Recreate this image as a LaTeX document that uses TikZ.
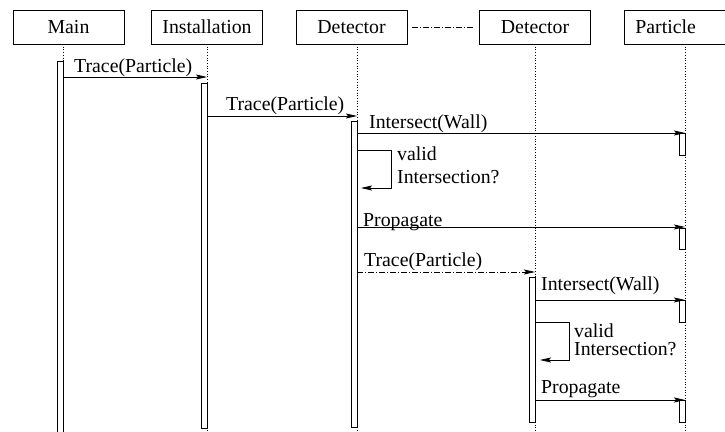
\documentclass[tikz,border=0pt]{standalone}
\usepackage{fontspec}
\setmainfont{Liberation Serif}
\usetikzlibrary{arrows.meta}
\begin{document}
\begin{tikzpicture}[x=1pt,y=-1pt,
  every node/.style={font=\fontsize{19.8}{22}\selectfont},
  obj/.style={draw, line width=0.8pt, minimum width=111pt, minimum height=34pt, inner sep=0pt},
  life/.style={dotted, line width=0.7pt},
  bar/.style={draw, fill=white, line width=0.7pt},
  msg/.style={line width=0.8pt, -{Stealth[length=11pt,width=5pt,inset=2pt]}},
  ddash/.style={dash pattern=on 6pt off 2pt on 1pt off 2pt},
  lbl/.style={anchor=base west, inner sep=0pt}]
\useasboundingbox (0,0) rectangle (725,431);
\clip (0,0) rectangle (725,431);

% objects
\node[obj] (main) at (68.5,27) {Main};
\node[obj] (inst) at (207,27) {Installation};
\node[obj] (det1) at (351.5,27) {Detector};
\node[obj] (det2) at (535,27) {Detector};
\node[obj, anchor=west, minimum width=0pt, text width=100pt, align=left, inner xsep=11pt] (part) at (624,27) {Particle};
\draw[line width=0.7pt, ddash] (det1.east) ++(5,0) coordinate (dA) (det2.west) ++(-5,0) coordinate (dB);
\draw[line width=0.7pt, ddash] (dA) -- (dB);

% lifelines
\foreach \n/\x in {mainL/63, instL/207, det1L/357, det2L/535, partL/685}{
  \coordinate (\n T) at (\x,44);
  \coordinate (\n B) at (\x,440);
  \draw[life] (\n T) -- (\n B);
}

% activation bars
\draw[bar] (57,61) rectangle (63,440);
\draw[bar] (201,83) rectangle (207,428);
\draw[bar] (351.5,121) rectangle (357,427);
\draw[bar] (529,277) rectangle (535,422);
\draw[bar] (679,133) rectangle (685,155);
\draw[bar] (679,228) rectangle (685,249);
\draw[bar] (679,300) rectangle (685,322);
\draw[bar] (679,400) rectangle (685,422);

% message end points
\coordinate (m1a) at (63,77);   \coordinate (m1b) at (207,77);
\coordinate (m2a) at (207,116); \coordinate (m2b) at (357,116);
\coordinate (m3a) at (357,133); \coordinate (m3b) at (685,133);
\coordinate (s1a) at (357,150); \coordinate (s1c) at (391,150); \coordinate (s1d) at (391,188); \coordinate (s1b) at (361,188);
\coordinate (m5a) at (357,227); \coordinate (m5b) at (685,227);
\coordinate (m6a) at (357,272); \coordinate (m6b) at (535,272);
\coordinate (m7a) at (535,300); \coordinate (m7b) at (685,300);
\coordinate (s2a) at (535,322); \coordinate (s2c) at (569,322); \coordinate (s2d) at (569,360); \coordinate (s2b) at (540,360);
\coordinate (m9a) at (535,400); \coordinate (m9b) at (685,400);

% messages
\draw[msg] (m1a) -- (m1b);
\draw[msg] (m2a) -- (m2b);
\draw[msg] (m3a) -- (m3b);
\draw[msg] (s1a) -- (s1c) -- (s1d) -- (s1b);
\draw[msg] (m5a) -- (m5b);
\draw[msg, ddash] (m6a) -- (m6b);
\draw[msg] (m7a) -- (m7b);
\draw[msg] (s2a) -- (s2c) -- (s2d) -- (s2b);
\draw[msg] (m9a) -- (m9b);

% labels
\node[lbl] (t1) at (74,72) {Trace(Particle)};
\node[lbl] (t2) at (226,110.5) {Trace(Particle)};
\node[lbl] (t3) at (369,128) {Intersect(Wall)};
\node[lbl] (t4a) at (397,160.5) {valid};
\node[lbl] (t4b) at (397,183) {Intersection?};
\node[lbl] (t5) at (363,226) {Propagate};
\node[lbl] (t6) at (364,266.5) {Trace(Particle)};
\node[lbl] (t7) at (541,290) {Intersect(Wall)};
\node[lbl] (t8a) at (574,337) {valid};
\node[lbl] (t8b) at (574,355) {Intersection?};
\node[lbl] (t9) at (541,393) {Propagate};
\end{tikzpicture}
\end{document}
